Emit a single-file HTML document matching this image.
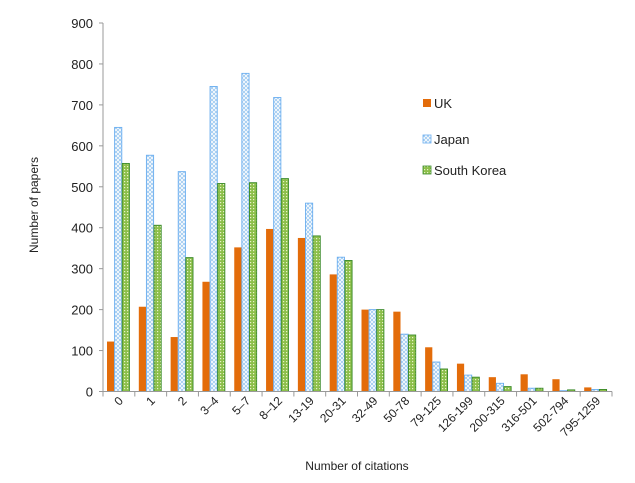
<!DOCTYPE html>
<html><head><meta charset="utf-8"><style>
body{margin:0;background:#fff;}
svg{display:block;font-family:"Liberation Sans",Arial,sans-serif;}
</style></head><body>
<svg id="chart" width="635" height="483" viewBox="0 0 635 483">
<defs>
<pattern id="pj" width="4" height="4" patternUnits="userSpaceOnUse"><rect width="4" height="4" fill="#fff"/><path d="M0,0L4,4M4,0L0,4" stroke="#9cc8f0" stroke-width="0.8"/></pattern>
<pattern id="pk" width="3" height="3" patternUnits="userSpaceOnUse"><rect width="3" height="3" fill="#8cbf4a"/><rect x="1" y="1" width="1.2" height="1.2" fill="#e8f2c8"/></pattern>
</defs>
<g id="grid"></g><g id="bars"></g><g id="axes"></g>
<g>
<rect x="423" y="99" width="8" height="8" fill="#e36c0a"/>
<text x="434" y="108" font-size="13" fill="#222">UK</text>
<rect x="423" y="135" width="8" height="8" fill="url(#pj)" stroke="#6aaef0" stroke-width="0.8"/>
<text x="434" y="144" font-size="13" fill="#222">Japan</text>
<rect x="423" y="166" width="8" height="8" fill="url(#pk)" stroke="#3a8a2a" stroke-width="0.8"/>
<text x="434" y="175" font-size="13" fill="#222">South Korea</text>
</g>
<text transform="translate(38,205) rotate(-90)" text-anchor="middle" font-size="12" fill="#222">Number of papers</text>
<text x="357" y="470" text-anchor="middle" font-size="12" fill="#222">Number of citations</text>
</svg>
<script>
const categories=["0","1","2","3–4","5–7","8–12","13-19","20-31","32-49","50-78","79-125","126-199","200-315","316-501","502-794","795-1259"];
const uk=[122,207,133,268,352,397,375,286,200,195,108,68,35,42,30,10];
const japan=[645,577,537,745,777,718,460,328,200,140,72,40,20,8,2,5];
const korea=[557,406,327,508,510,520,380,320,200,138,55,35,12,8,4,5];
const yTicks=[0,100,200,300,400,500,600,700,800,900];
const x0=103,x1=612,y0=391.5,yTop=23,yMax=900;
const cw=(x1-x0)/categories.length;
const ys=v=>y0-(v/yMax)*(y0-yTop);
const NS="http://www.w3.org/2000/svg";
function mk(t,a,p){const e=document.createElementNS(NS,t);for(const k in a)e.setAttribute(k,a[k]);p.appendChild(e);return e;}
const bars=document.getElementById('bars'),axes=document.getElementById('axes');
const series=[[uk,"#e36c0a","none"],[japan,"url(#pj)","#6aaef0"],[korea,"url(#pk)","#3a8a2a"]];
const names=["uk","japan","south-korea"];
categories.forEach((c,i)=>{
  series.forEach((s,j)=>{
    const v=s[0][i];const bx=x0+i*cw+4+j*7.6;
    const r=mk('rect',{x:bx,y:ys(v),width:7.2,height:y0-ys(v),fill:s[1],stroke:s[2],'stroke-width':0.9},bars);
    
    
  });
  const t=mk('text',{x:0,y:0,'text-anchor':'end','font-size':12,fill:'#222',transform:`translate(${x0+i*cw+cw/2+5},${y0+10}) rotate(-45)`},axes);
  t.textContent=c;
  
  
});
for(let i=0;i<=categories.length;i++)mk('line',{x1:x0+i*cw,x2:x0+i*cw,y1:y0,y2:y0+5,stroke:'#999'},axes);
mk('line',{x1:x0,x2:x1,y1:y0,y2:y0,stroke:'#999'},axes);
mk('line',{x1:x0,x2:x0,y1:yTop,y2:y0,stroke:'#999'},axes);
yTicks.forEach(v=>{
  mk('line',{x1:x0-4,x2:x0,y1:ys(v),y2:ys(v),stroke:'#999'},axes);
  const t=mk('text',{x:x0-10,y:ys(v)+5,'text-anchor':'end','font-size':13,fill:'#222'},axes);
  t.textContent=v;
  
  
});
</script>
</body></html>
